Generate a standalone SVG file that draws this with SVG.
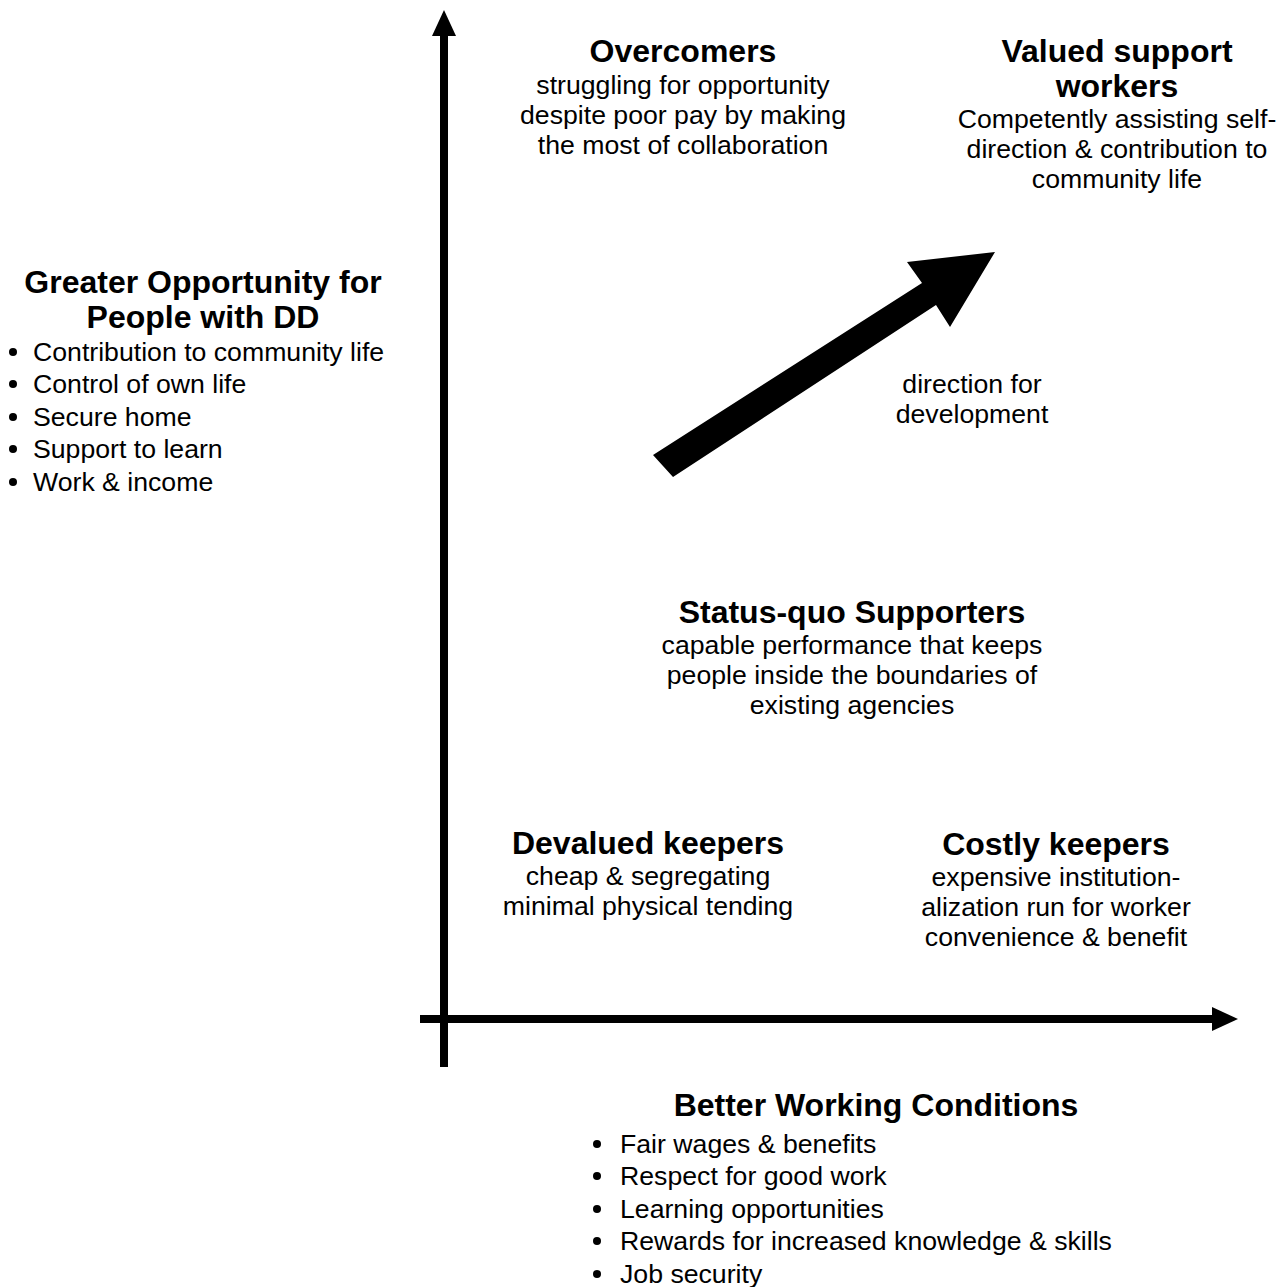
<svg xmlns="http://www.w3.org/2000/svg" width="1278" height="1287" viewBox="0 0 1278 1287">
<style>
text{font-family:"Liberation Sans",Arial,sans-serif;fill:#000}
.h{font-size:32px;font-weight:bold;text-anchor:middle}
.t{font-size:26.67px;text-anchor:middle}
.b{font-size:26.67px}
.ax{stroke:#000;stroke-width:8;fill:none}
</style>
<rect width="1278" height="1287" fill="#fff"/>
<g id="connectors">
<line class="ax" x1="444" y1="33" x2="444" y2="1067"/>
<polygon points="444,10 432,36 456,36" fill="#000"/>
<line class="ax" x1="420" y1="1019" x2="1214" y2="1019"/>
<polygon points="1238,1019 1212,1007 1212,1031" fill="#000"/>
<polygon id="dev-arrow" points="653,455 922,283 907,262 995,252 950,327 936,305 673,477" fill="#000"/>
</g>
<g id="overcomers">
<text class="h" x="683" y="62">Overcomers</text>
<text class="t" x="683" y="94">struggling for opportunity</text>
<text class="t" x="683" y="124">despite poor pay by making</text>
<text class="t" x="683" y="154">the most of collaboration</text>
</g>
<g id="valued">
<text class="h" x="1117" y="62">Valued support</text>
<text class="h" x="1117" y="97">workers</text>
<text class="t" x="1117" y="128">Competently assisting self-</text>
<text class="t" x="1117" y="158">direction &amp; contribution to</text>
<text class="t" x="1117" y="188">community life</text>
</g>
<g id="direction">
<text class="t" x="972" y="393">direction for</text>
<text class="t" x="972" y="423">development</text>
</g>
<g id="statusquo">
<text class="h" x="852" y="623">Status-quo Supporters</text>
<text class="t" x="852" y="654">capable performance that keeps</text>
<text class="t" x="852" y="684">people inside the boundaries of</text>
<text class="t" x="852" y="714">existing agencies</text>
</g>
<g id="devalued">
<text class="h" x="648" y="854">Devalued keepers</text>
<text class="t" x="648" y="885">cheap &amp; segregating</text>
<text class="t" x="648" y="915">minimal physical tending</text>
</g>
<g id="costly">
<text class="h" x="1056" y="855">Costly keepers</text>
<text class="t" x="1056" y="886">expensive institution-</text>
<text class="t" x="1056" y="916">alization run for worker</text>
<text class="t" x="1056" y="946">convenience &amp; benefit</text>
</g>
<g id="opportunity">
<text class="h" x="203" y="293">Greater Opportunity for</text>
<text class="h" x="203" y="328">People with DD</text>
<circle cx="13" cy="352" r="4"/><text class="b" x="33" y="361">Contribution to community life</text>
<circle cx="13" cy="384" r="4"/><text class="b" x="33" y="393">Control of own life</text>
<circle cx="13" cy="417" r="4"/><text class="b" x="33" y="426">Secure home</text>
<circle cx="13" cy="449" r="4"/><text class="b" x="33" y="458">Support to learn</text>
<circle cx="13" cy="482" r="4"/><text class="b" x="33" y="491">Work &amp; income</text>
</g>
<g id="working">
<text class="h" x="876" y="1116">Better Working Conditions</text>
<circle cx="597" cy="1144" r="4"/><text class="b" x="620" y="1153">Fair wages &amp; benefits</text>
<circle cx="597" cy="1176" r="4"/><text class="b" x="620" y="1185">Respect for good work</text>
<circle cx="597" cy="1209" r="4"/><text class="b" x="620" y="1218">Learning opportunities</text>
<circle cx="597" cy="1241" r="4"/><text class="b" x="620" y="1250">Rewards for increased knowledge &amp; skills</text>
<circle cx="597" cy="1274" r="4"/><text class="b" x="620" y="1283">Job security</text>
</g>
</svg>
